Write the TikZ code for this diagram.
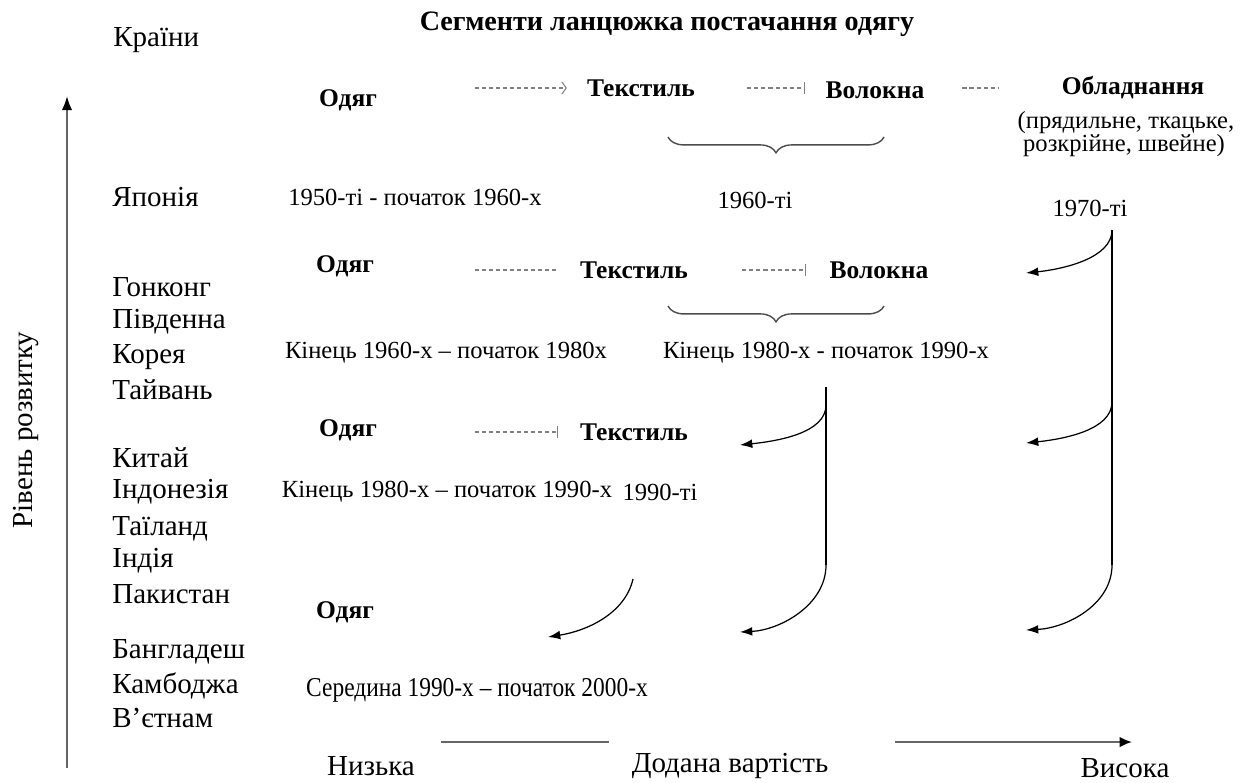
\documentclass[tikz,border=0pt]{standalone}
\usepackage{fontspec}
\setmainfont{Liberation Serif}
\newfontfamily\narrowfont[FakeStretch=0.86]{Liberation Serif}
\usetikzlibrary{arrows.meta}
\usetikzlibrary{decorations.pathreplacing}

\begin{document}
\begin{tikzpicture}[x=0.02cm,y=-0.02cm,
    seg/.style={inner sep=0pt,font=\fontsize{14.5}{17}\selectfont\bfseries},
    ctry/.style={inner sep=0pt,anchor=west,font=\fontsize{16.5}{19}\selectfont},
    per/.style={inner sep=0pt,font=\fontsize{14}{16}\selectfont},
    big/.style={inner sep=0pt,font=\fontsize{16.5}{19}\selectfont},
    flow/.style={gray,line width=.6pt,dash pattern=on 2.3pt off 1.7pt},
    move/.style={line width=.7pt,-{Latex[length=7pt,width=5pt]}},
    trunk/.style={line width=.7pt},
    brc/.style={gray!60!black,line width=.8pt,decorate,
      decoration={brace,amplitude=9pt}},
    axis/.style={gray!80!black,line width=1.2pt}]
  \useasboundingbox (0,0) rectangle (1241,782);

  \node (ttl) [inner sep=0pt,font=\fontsize{16}{19}\selectfont\bfseries]
    at (667,24) {Сегменти ланцюжка постачання одягу};
  \node (cnt) [ctry] at (113,40) {Країни};

  \node (jp) [ctry] at (112,197) {Японія};
  \node (hk) [ctry] at (112,287) {Гонконг};
  \node (sk) [ctry] at (112,322) {Південна};
  \node (kr) [ctry] at (112,357) {Корея};
  \node (tw) [ctry] at (112,390) {Тайвань};
  \node (cn) [ctry] at (112,458) {Китай};
  \node (id) [ctry] at (112,492) {Індонезія};
  \node (th) [ctry] at (112,529) {Таїланд};
  \node (in) [ctry] at (112,561) {Індія};
  \node (pk) [ctry] at (112,594) {Пакистан};
  \node (bd) [ctry] at (112,652) {Бангладеш};
  \node (kh) [ctry] at (112,686) {Камбоджа};
  \node (vn) [ctry] at (112,718) {В’єтнам};

  \node (lvl) [big,rotate=90] at (26,430) {Рівень розвитку};
  \coordinate (axb) at (67,768);
  \coordinate (axt) at (67,96);
  \draw[axis,-{Latex[length=8pt,width=6pt,black]}] (axb) -- (axt);

  % row 1
  \node (od1) [seg] at (348,100) {Одяг};
  \node (tx1) [seg] at (641,88) {Текстиль};
  \node (vl1) [seg] at (875,90) {Волокна};
  \node (ob1) [seg] at (1133,88) {Обладнання};
  \node (ob2) [per] at (1126,123) {(прядильне, ткацьке,};
  \node (ob3) [per] at (1124,146) {розкрійне, швейне)};
  \path (node cs:name=tx1,anchor=west) +(-112,0) coordinate (tx1i) {};
  \path (node cs:name=tx1,anchor=west) +(-20,0) coordinate (tx1o) {};
  \draw[flow,-{Straight Barb[length=2.5pt,width=7pt]}] (tx1i) -- (tx1o);
  \path (node cs:name=vl1,anchor=west) +(-78,-2) coordinate (vl1i) {};
  \path (node cs:name=vl1,anchor=west) +(-20,-2) coordinate (vl1o) {};
  \draw[flow,-{Bar[width=7pt]}] (vl1i) -- (vl1o);
  \path (node cs:name=ob1,anchor=west) +(-99,0) coordinate (ob1i) {};
  \path (node cs:name=ob1,anchor=west) +(-62,0) coordinate (ob1o) {};
  \draw[flow] (ob1i) -- (ob1o);
  \coordinate (b1r) at (884,137);
  \coordinate (b1l) at (668,137);
  \draw[brc] (b1r) -- (b1l);
  \node (p1a) [per] at (415,197) {1950-ті - початок 1960-х};
  \node (p1b) [per] at (755,200) {1960-ті};
  \node (p1c) [per] at (1090,208) {1970-ті};

  % row 2
  \node (od2) [seg] at (345,266) {Одяг};
  \node (tx2) [seg] at (634,270) {Текстиль};
  \node (vl2) [seg] at (879,270) {Волокна};
  \path (node cs:name=tx2,anchor=west) +(-105,0) coordinate (tx2i) {};
  \path (node cs:name=tx2,anchor=west) +(-22,0) coordinate (tx2o) {};
  \draw[flow] (tx2i) -- (tx2o);
  \path (node cs:name=vl2,anchor=west) +(-87,0) coordinate (vl2i) {};
  \path (node cs:name=vl2,anchor=west) +(-23,0) coordinate (vl2o) {};
  \draw[flow,-{Bar[width=7pt]}] (vl2i) -- (vl2o);
  \coordinate (b2r) at (884,306);
  \coordinate (b2l) at (668,306);
  \draw[brc] (b2r) -- (b2l);
  \node (p2a) [per] at (446,353) {Кінець 1960-х – початок 1980х};
  \node (p2b) [per] at (826,353) {Кінець 1980-х - початок 1990-х};

  % row 3
  \node (od3) [seg] at (348,430) {Одяг};
  \node (tx3) [seg] at (634,432) {Текстиль};
  \path (node cs:name=tx3,anchor=west) +(-105,0) coordinate (tx3i) {};
  \path (node cs:name=tx3,anchor=west) +(-22,0) coordinate (tx3o) {};
  \draw[flow,-{Bar[width=7pt]}] (tx3i) -- (tx3o);
  \node (p3a) [per] at (447,492) {Кінець 1980-х – початок 1990-х};
  \node (p3b) [per] at (660,492) {1990-ті};

  % row 4
  \node (od4) [seg] at (345,612) {Одяг};
  \node (p4a) [per,font=\fontsize{15.5}{18}\narrowfont] at (477,690)
    {Середина 1990-х – початок 2000-х};

  % shifts
  \coordinate (r0) at (1112,230);
  \coordinate (r1) at (1112,402);
  \coordinate (r2) at (1112,565);
  \coordinate (ra) at (1026,273);
  \coordinate (rb) at (1026,443);
  \coordinate (rc) at (1026,630);
  \draw[trunk] (r0) -- (r2);
  \draw[move] (r0) .. controls +(0,28) and +(38,-4) .. (ra);
  \draw[move] (r1) .. controls +(0,28) and +(38,-4) .. (rb);
  \draw[move] (r2) .. controls +(0,40) and +(40,-2) .. (rc);
  \coordinate (m0) at (826,387);
  \coordinate (m1) at (826,405);
  \coordinate (m2) at (826,565);
  \coordinate (ma) at (740,445);
  \coordinate (mb) at (740,632);
  \draw[trunk] (m0) -- (m2);
  \draw[move] (m1) .. controls +(0,28) and +(38,-4) .. (ma);
  \draw[move] (m2) .. controls +(0,40) and +(40,-2) .. (mb);
  \coordinate (la) at (633,579);
  \coordinate (lb) at (548,637);
  \draw[move] (la) .. controls +(-8,35) and +(38,-6) .. (lb);

  % value added
  \node (low) [big] at (371,766) {Низька};
  \node (val) [big] at (730,766) {Додана вартість};
  \node (high) [big] at (1125,768) {Висока};
  \coordinate (v0) at (441,742);
  \coordinate (v1) at (609,742);
  \coordinate (v2) at (895,742);
  \coordinate (v3) at (1132,742);
  \draw[axis] (v0) -- (v1);
  \draw[axis,-{Latex[length=7pt,width=6pt,black]}] (v2) -- (v3);
\end{tikzpicture}
\end{document}
